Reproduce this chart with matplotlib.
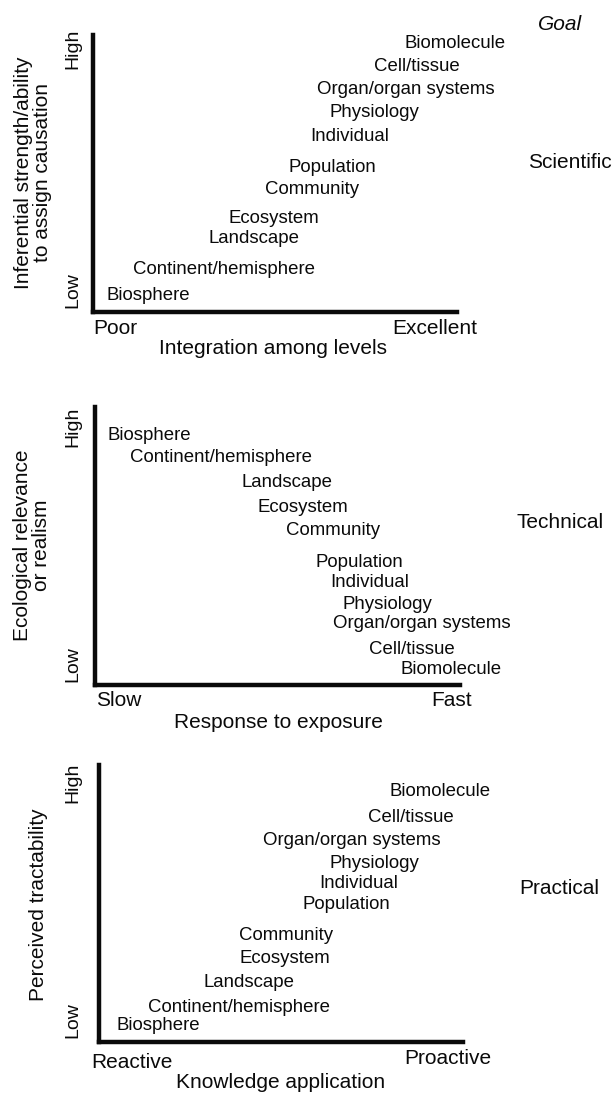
import matplotlib
matplotlib.use('Agg')
import matplotlib.pyplot as plt

W, H = 615, 1093
FONT = 'Liberation Sans'
INK = '#0a0a0a'
plt.rcParams['font.family'] = [FONT, 'DejaVu Sans']

# --- data: position of each organisational level on each panel (axis fraction) ---
levels_sci = ['Biomolecule', 'Cell/tissue', 'Organ/organ systems', 'Physiology',
              'Individual', 'Population', 'Community', 'Ecosystem', 'Landscape',
              'Continent/hemisphere', 'Biosphere']
x_sci = [0.857, 0.772, 0.615, 0.651, 0.596, 0.538, 0.473, 0.371, 0.316, 0.110, 0.036]
y_sci = [0.971, 0.888, 0.805, 0.722, 0.632, 0.523, 0.444, 0.339, 0.267, 0.155, 0.061]

levels_tech = ['Biosphere', 'Continent/hemisphere', 'Landscape', 'Ecosystem',
               'Community', 'Population', 'Individual', 'Physiology',
               'Organ/organ systems', 'Cell/tissue', 'Biomolecule']
x_tech = [0.033, 0.096, 0.400, 0.444, 0.523, 0.605, 0.644, 0.679, 0.652, 0.751, 0.836]
y_tech = [0.896, 0.817, 0.727, 0.637, 0.554, 0.439, 0.367, 0.291, 0.223, 0.129, 0.054]

levels_prac = ['Biomolecule', 'Cell/tissue', 'Organ/organ systems', 'Physiology',
               'Individual', 'Population', 'Community', 'Ecosystem', 'Landscape',
               'Continent/hemisphere', 'Biosphere']
x_prac = [0.799, 0.739, 0.451, 0.632, 0.604, 0.560, 0.385, 0.387, 0.286, 0.135, 0.049]
y_prac = [0.903, 0.809, 0.729, 0.646, 0.574, 0.498, 0.383, 0.300, 0.213, 0.126, 0.058]

ylabels = ['Inferential strength/ability\nto assign causation',
           'Ecological relevance\nor realism',
           'Perceived tractability']
xlabels = ['Integration among levels', 'Response to exposure', 'Knowledge application']
x_ends = [('Poor', 'Excellent'), ('Slow', 'Fast'), ('Reactive', 'Proactive')]
goals = ['Scientific', 'Technical', 'Practical']

# axes boxes in pixels: left, top, right, bottom
boxes = [(93, 35, 457, 312), (95, 407, 460, 685), (99, 765, 463, 1042)]
# pixel positions of the side texts for each panel
high_y = [49, 427, 783]
low_y = [290, 664, 1020]
ylab_x = [33, 32, 39]
ylab_y = [173, 545, 905]
lo_end = [(93, 328), (96, 700), (91, 1063)]
hi_end = [(392, 328), (431, 700), (404, 1058)]
xlab_pos = [(273, 349), (278, 723), (281, 1083)]
goal_pos = [(570, 162), (560, 522), (559, 888)]

fig = plt.figure(figsize=(W / 100, H / 100), dpi=100, facecolor='white')


def fx(px):
    return px / W


def fy(py):
    return 1 - py / H


def ftext(x, y, s, **kw):
    kw.setdefault('fontsize', 15)
    kw.setdefault('color', INK)
    fig.text(fx(x), fy(y), s, **kw)


panels = [(levels_sci, x_sci, y_sci), (levels_tech, x_tech, y_tech),
          (levels_prac, x_prac, y_prac)]

for i, (labels, xs, ys) in enumerate(panels):
    l, t, r, b = boxes[i]
    ax = fig.add_axes([fx(l), fy(b), (r - l) / W, (b - t) / H])
    ax.set_xlim(0, 1)
    ax.set_ylim(0, 1)
    ax.set_xticks([])
    ax.set_yticks([])
    for side in ('top', 'right'):
        ax.spines[side].set_visible(False)
    for side in ('left', 'bottom'):
        ax.spines[side].set_linewidth(3.2)
        ax.spines[side].set_color(INK)
        ax.spines[side].set_capstyle('projecting')
    ax.patch.set_alpha(0)

    for lab, x, y in zip(labels, xs, ys):
        ax.text(x, y, lab, ha='left', va='center', fontsize=13.4, color=INK,
                clip_on=False)

    ftext(73, high_y[i], 'High', rotation=90, ha='center', va='center', fontsize=14)
    ftext(73, low_y[i], 'Low', rotation=90, ha='center', va='center', fontsize=14)
    ftext(ylab_x[i], ylab_y[i], ylabels[i], rotation=90, ha='center', va='center',
          multialignment='center', linespacing=0.95)
    ftext(lo_end[i][0], lo_end[i][1], x_ends[i][0], ha='left', va='center')
    ftext(hi_end[i][0], hi_end[i][1], x_ends[i][1], ha='left', va='center')
    ftext(xlab_pos[i][0], xlab_pos[i][1], xlabels[i], ha='center', va='center')
    ftext(goal_pos[i][0], goal_pos[i][1], goals[i], ha='center', va='center')

ftext(560, 24, 'Goal', ha='center', va='center', style='italic')

fig.savefig('out.png', dpi=100, facecolor='white')
